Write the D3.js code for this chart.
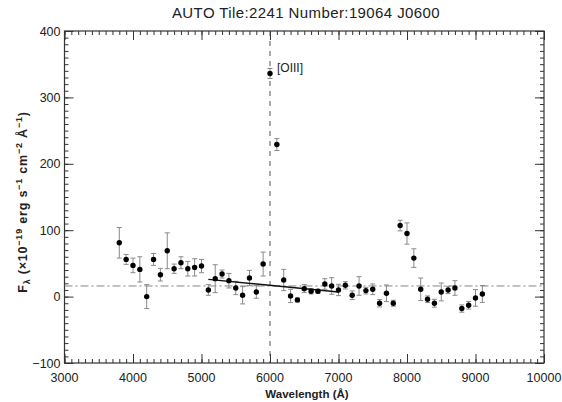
<!DOCTYPE html>
<html>
<head>
<meta charset="utf-8">
<script src="https://cdn.jsdelivr.net/npm/d3@7"></script>
<style>
  body { margin: 0; background: #fff; }
  text { font-family: "Liberation Sans", Arial, sans-serif; fill: #222; }
</style>
</head>
<body>
<div id="chart"></div>
<script>
// Spectrum points
const wavelength = [3800, 3900, 4000, 4100, 4200, 4300, 4400, 4500, 4600, 4700,
                    4800, 4900, 5000, 5100, 5200, 5300, 5400, 5500, 5600, 5700,
                    5800, 5900, 6000, 6100, 6200, 6300, 6400, 6500, 6600, 6700,
                    6800, 6900, 7000, 7100, 7200, 7300, 7400, 7500, 7600, 7700,
                    7800, 7900, 8000, 8100, 8200, 8300, 8400, 8500, 8600, 8700,
                    8800, 8900, 9000, 9100];
const flux = [81, 56, 47, 41, 0, 56, 33, 69, 42, 51,
              42, 44, 46, 10, 27, 34, 24, 13, 2, 28,
              7, 49, 336, 229, 25, 1, -5, 12, 8, 8,
              19, 16, 10, 17, 2, 16, 9, 11, -10, 5,
              -10, 107, 95, 58, 11, -4, -10, 7, 10, 13,
              -18, -13, -2, 4];
const fluxErr = [23, 7.5, 11, 19, 18, 9, 9.5, 27, 7, 9,
                 11, 13, 10, 8, 21, 6, 11, 10, 13, 11.5,
                 9.5, 18, 7.5, 9, 16, 10, 3, 6, 4, 3,
                 8, 12.5, 8.5, 5.5, 6.5, 14, 5, 8, 5.5, 12.5,
                 4.5, 8, 16, 14, 17, 5, 6, 13.5, 5.5, 11,
                 5.5, 5.7, 12.5, 12.7];

// Continuum fit segment and reference lines
const fitLine = [[5100, 26], [7000, 7]];
const lineWavelength = 6000;
const continuumLevel = 16;
const lineLabel = "[OIII]";

const xTicks = [3000, 4000, 5000, 6000, 7000, 8000, 9000, 10000];
const yTicks = [-100, 0, 100, 200, 300, 400];

const W = 562, H = 402;
const margin = {top: 31, right: 18, bottom: 39, left: 64.5};
const width = W - margin.left - margin.right;
const height = H - margin.top - margin.bottom;

const svg = d3.select("#chart").append("svg")
    .attr("width", W).attr("height", H);
const g = svg.append("g")
    .attr("transform", `translate(${margin.left},${margin.top})`);

const x = d3.scaleLinear().domain([3000, 10000]).range([0, width]);
const y = d3.scaleLinear().domain([-100, 400]).range([height, 0]);

const axisColor = "#333";

// minor + major ticks on all four sides (pointing inward)
function drawAxis(axisFn, scale, major, minorStep, transform) {
    const ext = scale.domain();
    const minor = d3.range(ext[0], ext[1] + 0.001, minorStep);
    const gm = g.append("g").attr("transform", transform)
        .call(axisFn(scale).tickValues(minor).tickSize(-4).tickFormat(""));
    gm.select(".domain").remove();
    gm.selectAll("line").attr("stroke", axisColor);
    const gM = g.append("g").attr("transform", transform)
        .call(axisFn(scale).tickValues(major).tickSize(-9).tickFormat(""));
    gM.select(".domain").remove();
    gM.selectAll("line").attr("stroke", axisColor);
}
drawAxis(d3.axisBottom, x, xTicks, 100, `translate(0,${height})`);
drawAxis(d3.axisTop, x, xTicks, 100, "translate(0,0)");
drawAxis(d3.axisLeft, y, yTicks, 10, "translate(0,0)");
drawAxis(d3.axisRight, y, yTicks, 10, `translate(${width},0)`);

g.append("rect")
    .attr("width", width).attr("height", height)
    .attr("fill", "none").attr("stroke", axisColor).attr("stroke-width", 1.2);

// tick labels
g.selectAll(".xl").data(xTicks).enter().append("text")
    .attr("x", d => x(d)).attr("y", height + 19)
    .attr("text-anchor", "middle").attr("font-size", 12.5)
    .text(d => d);
g.selectAll(".yl").data(yTicks).enter().append("text")
    .attr("x", -4).attr("y", d => y(d) + 4.5)
    .attr("text-anchor", "end").attr("font-size", 12.5)
    .text(d => d < 0 ? "\u2212" + Math.abs(d) : d);

// reference lines
g.append("line")
    .attr("x1", x(lineWavelength)).attr("x2", x(lineWavelength))
    .attr("y1", 0).attr("y2", height)
    .attr("stroke", "#444").attr("stroke-width", 0.9)
    .attr("stroke-dasharray", "5,5");
g.append("line")
    .attr("x1", 0).attr("x2", width)
    .attr("y1", y(continuumLevel)).attr("y2", y(continuumLevel))
    .attr("stroke", "#777").attr("stroke-width", 0.9)
    .attr("stroke-dasharray", "8,3,2,3");

// error bars
const pts = wavelength.map((w, i) => ({w, f: flux[i], e: fluxErr[i]}));
const eb = g.selectAll(".eb").data(pts).enter().append("g")
    .attr("stroke", "#8a8a8a").attr("stroke-width", 1);
eb.append("line")
    .attr("x1", d => x(d.w)).attr("x2", d => x(d.w))
    .attr("y1", d => y(d.f - d.e)).attr("y2", d => y(d.f + d.e));
eb.append("line")
    .attr("x1", d => x(d.w) - 2.5).attr("x2", d => x(d.w) + 2.5)
    .attr("y1", d => y(d.f + d.e)).attr("y2", d => y(d.f + d.e));
eb.append("line")
    .attr("x1", d => x(d.w) - 2.5).attr("x2", d => x(d.w) + 2.5)
    .attr("y1", d => y(d.f - d.e)).attr("y2", d => y(d.f - d.e));

// fit line
g.append("path")
    .datum(fitLine)
    .attr("d", d3.line().x(d => x(d[0])).y(d => y(d[1])))
    .attr("stroke", "#111").attr("stroke-width", 1.4).attr("fill", "none");

// points
g.selectAll(".pt").data(pts).enter().append("circle")
    .attr("cx", d => x(d.w)).attr("cy", d => y(d.f))
    .attr("r", 2.7).attr("fill", "#000");

// line label
g.append("text")
    .attr("x", x(lineWavelength) + 7).attr("y", y(flux[22]) - 1)
    .attr("font-size", 12)
    .text(lineLabel);

// title
svg.append("text")
    .attr("x", 306).attr("y", 18)
    .attr("text-anchor", "middle").attr("font-size", 15)
    .attr("letter-spacing", 0.4)
    .attr("fill", "#333")
    .text("AUTO Tile:2241 Number:19064 J0600");

// x label
svg.append("text")
    .attr("x", 307).attr("y", 398)
    .attr("text-anchor", "middle").attr("font-size", 11.5)
    .attr("font-weight", "bold")
    .text("Wavelength (\u00C5)");

// y label with sub/superscripts
const yl = svg.append("text")
    .attr("transform", `translate(27,202) rotate(-90)`)
    .attr("text-anchor", "middle").attr("font-size", 12.5)
    .attr("letter-spacing", 0.8)
    .attr("font-weight", "bold");
yl.append("tspan").text("F");
yl.append("tspan").attr("dy", 3).attr("font-size", 9).text("\u03BB");
yl.append("tspan").attr("dy", -3).text(" (\u00D710");
yl.append("tspan").attr("dy", -5).attr("font-size", 9).text("\u221219");
yl.append("tspan").attr("dy", 5).text("  erg s");
yl.append("tspan").attr("dy", -5).attr("font-size", 9).text("\u22121");
yl.append("tspan").attr("dy", 5).text("  cm");
yl.append("tspan").attr("dy", -5).attr("font-size", 9).text("\u22122");
yl.append("tspan").attr("dy", 5).text("  \u00C5");
yl.append("tspan").attr("dy", -5).attr("font-size", 9).text("\u22121");
yl.append("tspan").attr("dy", 5).text(")");
</script>
</body>
</html>
